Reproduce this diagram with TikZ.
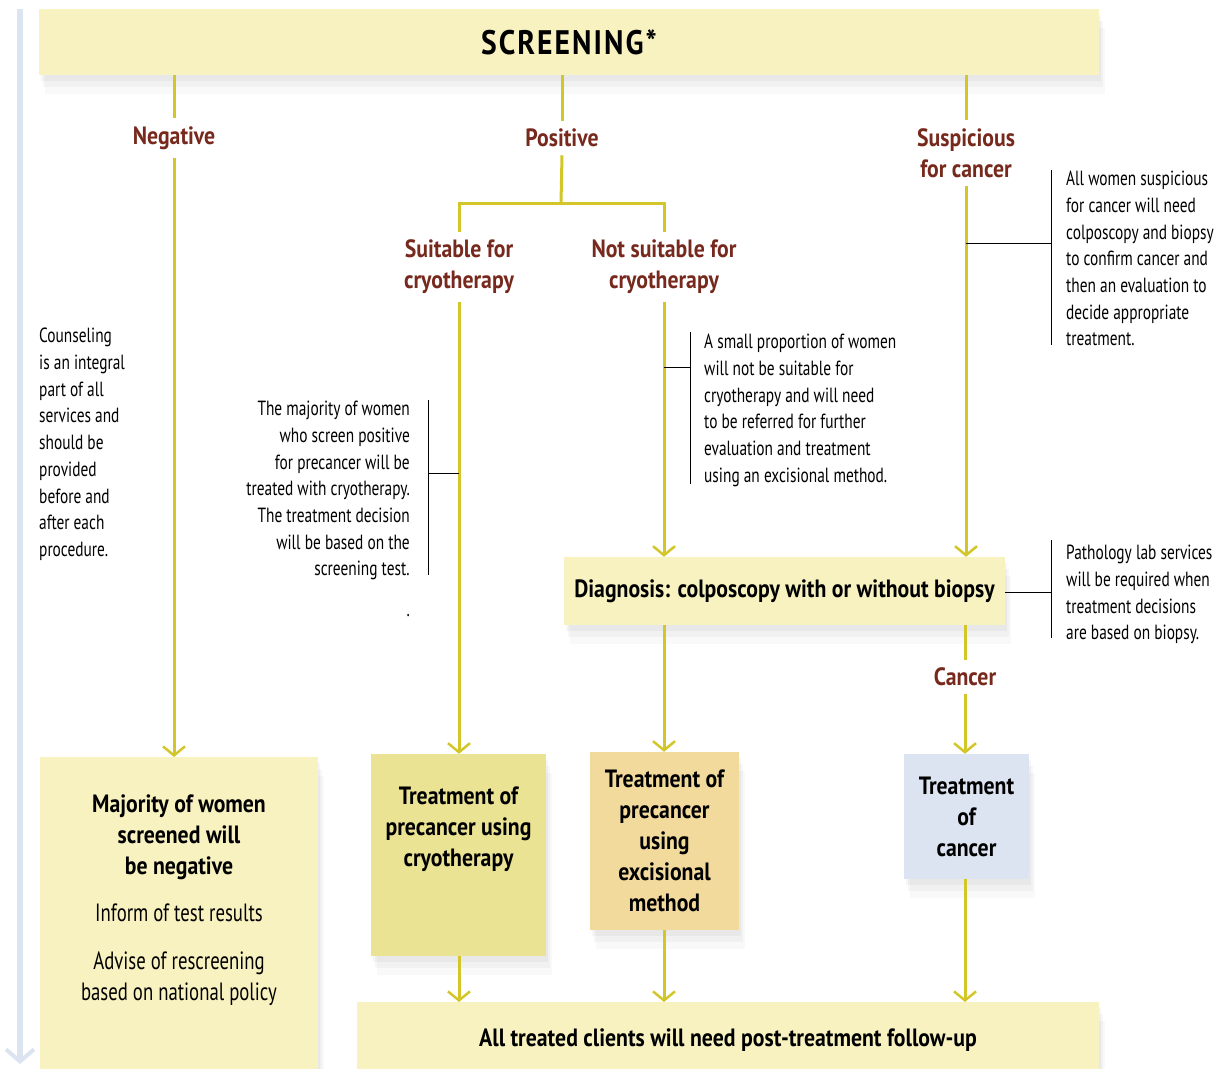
\documentclass[tikz,border=0pt]{standalone}
\usepackage{fontspec}
\setmainfont{PT Sans}[FakeStretch=0.75,BoldFeatures={FakeStretch=0.87}]
\usetikzlibrary{arrows.meta,shadows,positioning}
\definecolor{paleyellow}{HTML}{F8F2C0}
\definecolor{cryoyellow}{HTML}{EAE393}
\definecolor{excisiontan}{HTML}{F2DA9C}
\definecolor{paleblue}{HTML}{DCE3F1}
\definecolor{flowline}{HTML}{D2C628}
\definecolor{labelred}{HTML}{76291C}
\tikzset{
  softshadow/.style={
    general shadow={fill=black, opacity=0.035, shadow xshift=2pt, shadow yshift=-6pt},
    general shadow={fill=black, opacity=0.03, shadow xshift=4pt, shadow yshift=-12pt},
    general shadow={fill=black, opacity=0.025, shadow xshift=6pt, shadow yshift=-19pt}},
  box/.style={fill=paleyellow, inner sep=0pt, align=center, softshadow,
    font=\bfseries\fontsize{25}{31}\selectfont},
  boxtext/.style={align=center, inner sep=0pt, font=\bfseries\fontsize{25}{31}\selectfont},
  branch/.style={text=labelred, align=center, inner sep=8pt,
    font=\bfseries\fontsize{25}{31}\selectfont},
  flow/.style={draw=flowline, line width=3pt},
  flowarrow/.style={flow, -{Straight Barb[length=9pt,width=22pt,line width=2.5pt]}},
  note/.style={inner sep=0pt, font=\fontsize{20.5}{26.7}\selectfont},
  bracket/.style={draw=black, line width=1pt},
}
\begin{document}
\begin{tikzpicture}[x=1pt,y=-1pt]
  \useasboundingbox (0,0) rectangle (1220,1068);

  % side arrow
  \coordinate (side top) at (20,9);
  \coordinate (side end) at (20,1064);
  \draw [draw=paleblue, line width=6pt, -{Straight Barb[length=12pt,width=28pt,line width=4pt]}] (side top) -- (side end);

  % screening
  \node [box, minimum width=1060pt, minimum height=66pt] (scr) at (569,42)
    {\fontsize{34}{40}\selectfont\addfontfeature{LetterSpace=6}SCREENING*};

  % branches
  \node [branch] (neg) at (174,138) {Negative};
  \node [branch] (pos) at (562,138) {Positive};
  \node [branch] (susp) at (966,153) {Suspicious\\for cancer};
  \coordinate (split) at (561,203);
  \node [branch] (suit) at (459,267) {Suitable for\\cryotherapy};
  \node [branch] (notsuit) at (664,267) {Not suitable for\\cryotherapy};

  % boxes
  \node [box, minimum width=278pt, minimum height=330pt, anchor=north] (maj) at (179,757) {};
  \node [boxtext, below=38pt of maj.north] (majhead) {Majority of women\\screened will\\be negative};
  \node [boxtext, font=\fontsize{25}{31}\selectfont, below=23pt of majhead] (inform) {Inform of test results};
  \node [boxtext, font=\fontsize{25}{31}\selectfont, below=30pt of inform] (advise) {Advise of rescreening\\based on national policy};

  \node [box, fill=cryoyellow, minimum width=175pt, minimum height=202pt] (cryo) at (458.5,855) {};
  \node [boxtext, below=33pt of cryo.north] (cryotext) {Treatment of\\precancer using\\cryotherapy};

  \node [box, minimum width=441pt, minimum height=68pt] (diag) at (784.5,591)
    {\raisebox{2pt}{Diagnosis: colposcopy with or without biopsy}};
  \node [box, fill=excisiontan, minimum width=149pt, minimum height=178pt] (excis) at (664.5,841)
    {Treatment of\\precancer\\using\\excisional\\method};
  \node [branch] (canc) at (965,677) {Cancer};
  \node [box, fill=paleblue, minimum width=125pt, minimum height=125pt] (cancbox) at (966.5,816.5)
    {Treatment\\of\\cancer};
  \node [box, minimum width=742pt, minimum height=80pt, anchor=north] (follow) at (728,1002)
    {\raisebox{9pt}{All treated clients will need post-treatment follow-up}};

  % connectors
  \draw [flow] (scr.south -| neg) -- (neg.north);
  \draw [flowarrow] (neg.south) -- (neg.south |- maj.north);
  \draw [flow] (scr.south -| pos) -- (pos.north);
  \draw [flow] (pos.south) -- (split);
  \draw [flow] (suit.north) -- (suit.north |- split) -- (notsuit.north |- split) -- (notsuit.north);
  \draw [flowarrow] (suit.south) -- (suit.south |- cryo.north);
  \draw [flowarrow] (notsuit.south) -- (notsuit.south |- diag.north);
  \draw [flow] (scr.south -| susp) -- (susp.north);
  \draw [flowarrow] (susp.south) -- (susp.south |- diag.north);
  \draw [flowarrow] (diag.south -| notsuit) -- (notsuit |- excis.north);
  \draw [flow] (diag.south -| canc) -- (canc.north);
  \draw [flowarrow] (canc.south) -- (canc.south |- cancbox.north);
  \draw [flowarrow] (cryo.south -| suit) -- (suit |- follow.north);
  \draw [flowarrow] (excis.south -| notsuit) -- (notsuit |- follow.north);
  \draw [flowarrow] (cancbox.south -| canc) -- (canc |- follow.north);

  % notes
  \node [note, align=left, anchor=north west] (counsel) at (39,328)
    {Counseling\\is an integral\\part of all\\services and\\should be\\provided\\before and\\after each\\procedure.};
  \node [note, align=right, anchor=north east] (cryonote) at (410,401)
    {The majority of women\\who screen positive\\for precancer will be\\treated with cryotherapy.\\The treatment decision\\will be based on the\\screening test.};
  \node [note, anchor=north east] (dot) at (410,614) {.};
  \node [note, align=left, anchor=north west] (excnote) at (704,334)
    {A small proportion of women\\will not be suitable for\\cryotherapy and will need\\to be referred for further\\evaluation and treatment\\using an excisional method.};
  \node [note, align=left, anchor=north west] (suspnote) at (1066,171)
    {All women suspicious\\for cancer will need\\colposcopy and biopsy\\to confirm cancer and\\then an evaluation to\\decide appropriate\\treatment.};
  \node [note, align=left, anchor=north west] (pathnote) at (1066,545)
    {Pathology lab services\\will be required when\\treatment decisions\\are based on biopsy.};

  % brackets
  \draw [bracket] (428,400) -- (428,575);
  \draw [bracket] (428,473) -- (suit |- 0,473);
  \draw [bracket] (690,332) -- (690,484);
  \draw [bracket] (690,367) -- (notsuit |- 0,367);
  \draw [bracket] (1051,170) -- (1051,345);
  \draw [bracket] (1051,243) -- (susp |- 0,243);
  \draw [bracket] (1051,540) -- (1051,638);
  \draw [bracket] (1051,592) -- (diag.east |- 0,592);
\end{tikzpicture}
\end{document}
